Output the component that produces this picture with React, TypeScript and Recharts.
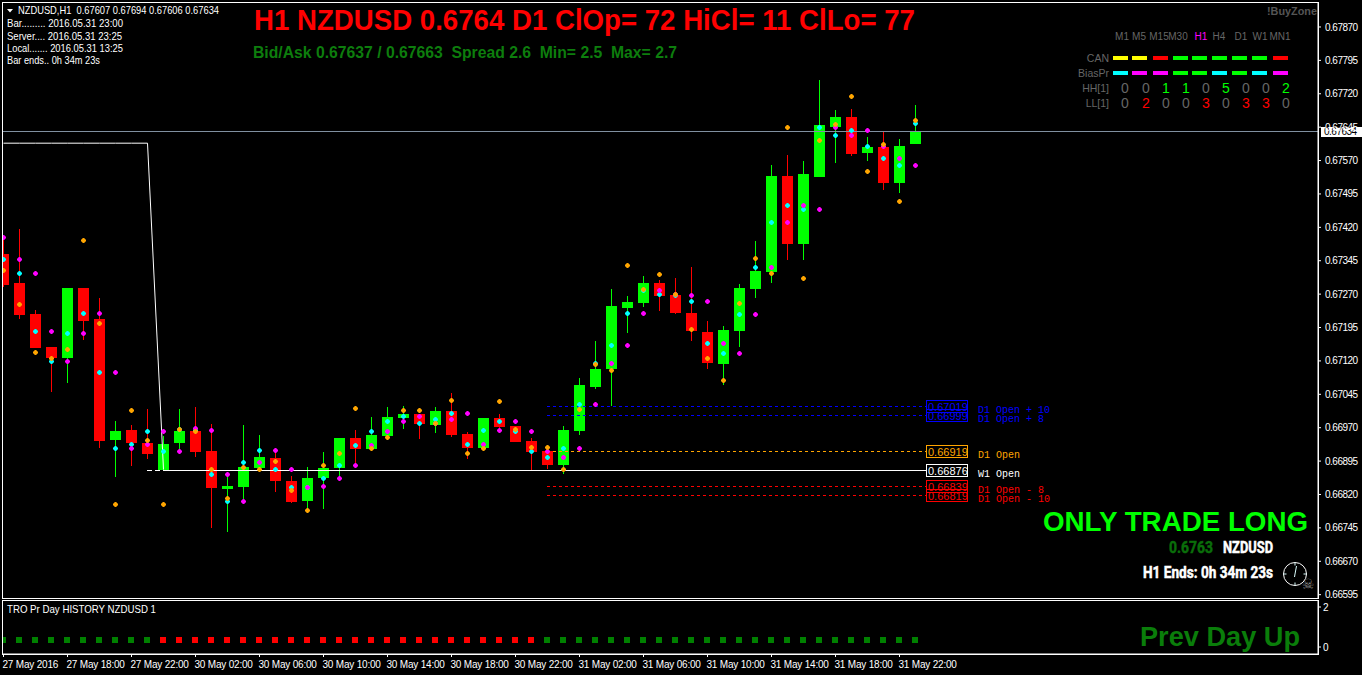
import React from "react";
import { ComposedChart, Bar, Line, XAxis, YAxis, ReferenceLine } from "recharts";

const opens = [0.6736,0.67295,0.67225,0.67151,0.67127,0.67284,0.67214,0.66942,0.66965,0.66935,0.66875,0.66935,0.66963,0.66918,0.66833,0.66837,0.66879,0.66902,0.66851,0.66806,0.66857,0.66879,0.66947,0.66922,0.66952,0.66992,0.67001,0.66976,0.67008,0.66956,0.66924,0.66992,0.66974,0.6694,0.66918,0.66886,0.66963,0.67061,0.67102,0.67239,0.6725,0.67295,0.67268,0.67227,0.67185,0.67113,0.67187,0.67281,0.6732,0.67536,0.67383,0.67533,0.67645,0.67668,0.67587,0.67601,0.6752,0.67607];
const closes = [0.67291,0.67223,0.67149,0.67127,0.67284,0.6721,0.6694,0.66963,0.66935,0.66911,0.66933,0.66963,0.66916,0.66835,0.6684,0.66881,0.66904,0.66851,0.66804,0.66857,0.66879,0.66947,0.66922,0.66954,0.66994,0.67001,0.66978,0.67008,0.66954,0.66924,0.66992,0.66971,0.66938,0.66916,0.66886,0.66965,0.67066,0.67102,0.67244,0.67253,0.67295,0.67266,0.67227,0.67187,0.67115,0.67189,0.67284,0.67322,0.67536,0.67383,0.6754,0.6765,0.67668,0.67585,0.67601,0.6752,0.67603,0.67634];
const highs = [0.67403,0.67417,0.67234,0.67151,0.67284,0.67284,0.67261,0.66985,0.66976,0.67012,0.66952,0.67012,0.67016,0.66978,0.66859,0.66976,0.66954,0.66916,0.66862,0.66881,0.66916,0.66947,0.66965,0.66994,0.67016,0.67019,0.67001,0.67016,0.67048,0.66961,0.66992,0.67001,0.66974,0.66947,0.66918,0.66974,0.67082,0.67165,0.67281,0.67266,0.67311,0.67302,0.67306,0.67331,0.6721,0.67198,0.67293,0.6739,0.6756,0.67583,0.67569,0.67751,0.67684,0.67686,0.67623,0.67637,0.67618,0.67694];
const lows = [0.67286,0.67214,0.67149,0.67051,0.6707,0.67167,0.66924,0.66859,0.66884,0.669,0.66875,0.66916,0.66904,0.66745,0.66736,0.66808,0.66875,0.66826,0.66801,0.66785,0.66788,0.66853,0.66879,0.66922,0.66952,0.66967,0.66945,0.66958,0.66949,0.669,0.66924,0.66958,0.66938,0.66875,0.66877,0.66866,0.66954,0.67057,0.67019,0.67182,0.67241,0.67232,0.67225,0.67165,0.67102,0.67066,0.67151,0.67263,0.67295,0.67347,0.67347,0.67533,0.67565,0.6758,0.67569,0.67504,0.67497,0.67606];
const orangeDots = [0.67324,0.67246,0.67138,0.67125,0.67145,0.6739,0.67203,0.66797,0.67008,0.66942,0.66797,0.66965,0.66961,0.66875,0.6681,0.66881,0.66877,0.66893,0.66828,0.66783,0.66886,0.66913,0.67014,0.66924,0.66949,0.67008,0.67008,0.6698,0.6703,0.66913,0.66924,0.67028,0.66967,0.66926,0.66926,0.66877,0.6701,0.67113,0.67098,0.67334,0.67281,0.67315,0.6727,0.67191,0.67125,0.67077,0.67248,0.67349,0.67317,0.67645,0.67304,0.67614,0.67652,0.67713,0.67545,0.67605,0.67477,0.67661];
const cyanDots = [0.67347,0.67317,0.67185,0.67118,0.67181,0.67227,0.67095,0.66924,0.66933,0.66961,0.66916,0.66967,0.66963,0.66864,0.66804,0.66891,0.66918,0.66877,0.66835,0.66835,0.66855,0.66886,0.66929,0.66961,0.66985,0.66996,0.6698,0.66989,0.67003,0.66933,0.66963,0.66983,0.66961,0.66916,0.66904,0.66924,0.67021,0.67115,0.67154,0.67227,0.67279,0.6727,0.67266,0.67253,0.6716,0.67136,0.67225,0.67329,0.6743,0.67468,0.67461,0.67645,0.67627,0.67637,0.67601,0.67574,0.6756,0.67654];
const magentaDots = [0.67398,0.67347,0.67317,0.67185,0.67118,0.67181,0.67227,0.67095,0.66924,0.66933,0.66961,0.66916,0.66969,0.66963,0.66864,0.66804,0.66891,0.66918,0.66877,0.66835,0.66837,0.66855,0.66886,0.66929,0.66961,0.66985,0.66996,0.6698,0.66989,0.67003,0.66933,0.66963,0.66983,0.66961,0.66916,0.66904,0.66924,0.67021,0.67115,0.67154,0.67227,0.67279,0.6727,0.67268,0.67253,0.6716,0.67136,0.67225,0.67329,0.6743,0.67468,0.67461,0.67645,0.67627,0.67637,0.67601,0.67574,0.6756];
const stepLine = [0.67609,0.67609,0.67609,0.67609,0.67609,0.67609,0.67609,0.67609,0.67609,0.67609,0.66876];
const histValue = [0.35,0.35,0.35,0.35,0.35,0.35,0.35,0.35,0.35,0.35,0.35,0.35,0.35,0.35,0.35,0.35,0.35,0.35,0.35,0.35,0.35,0.35,0.35,0.35,0.35,0.35,0.35,0.35,0.35,0.35,0.35,0.35,0.35,0.35,0.35,0.35,0.35,0.35,0.35,0.35,0.35,0.35,0.35,0.35,0.35,0.35,0.35,0.35,0.35,0.35,0.35,0.35,0.35,0.35,0.35,0.35,0.35,0.35];
const histUp = [1,1,1,1,1,1,1,1,1,1,0,0,0,0,0,0,0,0,0,0,0,0,0,0,0,0,0,0,0,0,0,0,0,0,1,1,1,1,1,1,1,1,1,1,1,1,1,1,1,1,1,1,1,1,1,1,1,1];

const priceTicks = [0.6787,0.67795,0.6772,0.67645,0.6757,0.67495,0.6742,0.67345,0.6727,0.67195,0.6712,0.67045,0.6697,0.66895,0.6682,0.66745,0.6667,0.66595];
const timeTickIdx = [0,4,8,12,16,20,24,28,32,36,40,44,48,52,56];
const timeLabels = ["27 May 2016","27 May 18:00","27 May 22:00","30 May 02:00","30 May 06:00","30 May 10:00","30 May 14:00","30 May 18:00","30 May 22:00","31 May 02:00","31 May 06:00","31 May 10:00","31 May 14:00","31 May 18:00","31 May 22:00"];

const levelPrices = [0.67019,0.66999,0.66919,0.66876,0.66839,0.66819];
const levelNames = ["D1 Open + 10","D1 Open + 8","D1 Open","W1 Open","D1 Open - 8","D1 Open - 10"];
const levelColors = ["#0000ff","#0000ff","#ffa500","#ffffff","#ff0000","#ff0000"];
const levelFrom = [34,34,34,10,34,34];
const bidPrice = 0.67634;

const frames = ["M1","M5","M15","M30","H1","H4","D1","W1","MN1"];
const frameX = [1122,1139,1159,1178,1201,1219,1241,1260,1280];
const canColors = ["#ffff00","#ffff00","#ff0000","#00ff00","#00ff00","#00ff00","#00ff00","#00ff00","#ff0000"];
const biasColors = ["#00ffff","#ff00ff","#ff00ff","#00ff00","#00ff00","#00ffff","#00ff00","#00ffff","#ff00ff"];
const dashX = [1113,1132,1153,1173,1192,1212,1232,1252,1273];
const numX = [1125,1146,1166,1186,1206,1226,1246,1266,1286];
const hhValues = [0,0,1,1,0,5,0,0,2];
const llValues = [0,2,0,0,3,0,3,3,0];
const infoLines = ["Bar......... 2016.05.31 23:00","Server.... 2016.05.31 23:25","Local....... 2016.05.31 13:25","Bar ends.. 0h 34m 23s"];

const rows = closes.map((c, i) => ({
  idx: i, open: opens[i], high: highs[i], low: lows[i], close: c,
  orange: orangeDots[i], cyan: cyanDots[i], magenta: magentaDots[i],
  step: i < stepLine.length ? stepLine[i] : null,
  histUp: histUp[i] ? histValue[i] : null,
  histDown: histUp[i] ? null : histValue[i],
}));

const SANS = "'Liberation Sans', Arial, sans-serif";
const MONO = "'Liberation Mono', 'DejaVu Sans Mono', monospace";
const NARROW = "'Liberation Sans Narrow', Roboto, 'Liberation Sans', sans-serif";
const X_DOMAIN: [number, number] = [-0.09375, 82.15625];
const Y_DOMAIN: [number, number] = [0.665875, 0.679261];
const RED = "#ff0000";
const LIME = "#00ff00";

function Candle(props: any) {
  const { x, y, width, height, payload } = props;
  const up = payload.close >= payload.open;
  const color = up ? LIME : RED;
  const top = Math.min(y, y + height);
  const h = Math.abs(height);
  const span = payload.high - payload.low || 1;
  const toY = (v: number) => top + ((payload.high - v) / span) * h;
  const bodyTop = Math.round(toY(Math.max(payload.open, payload.close)));
  const bodyBottom = Math.max(bodyTop + 1, Math.round(toY(Math.min(payload.open, payload.close))));
  const cx = Math.round(x + width / 2 - 0.5);
  return (
    <g shapeRendering="crispEdges">
      <rect x={cx} y={Math.round(top)} width={1} height={Math.max(1, Math.round(h))} fill={color} />
      <rect x={cx - 5} y={bodyTop} width={11} height={bodyBottom - bodyTop} fill={color} />
    </g>
  );
}

const marker = (color: string) => (p: any) => {
  if (p.cy == null || p.value == null) return <g key={p.index} />;
  const cx = Math.floor(p.cx) + 0.5;
  const cy = Math.floor(p.cy) + 0.5;
  const diamond = `M${cx - 0.5} ${cy - 2.5}h1v1h1v1h1v1h-1v1h-1v1h-1v-1h-1v-1h-1v-1h1v-1h1z`;
  const octagon = `M${cx - 1.5} ${cy - 2.5}h3v1h1v3h-1v1h-3v-1h-1v-3h1z`;
  return (
    <g key={p.index} shapeRendering="crispEdges">
      <path d={octagon} fill={color} fillOpacity={0.6} />
      <path d={diamond} fill={color} />
    </g>
  );
};

const square = (color: string) => (p: any) => {
  if (p.cy == null || p.value == null) return <g key={p.index} />;
  return <rect key={p.index} x={Math.floor(p.cx) - 3} y={Math.round(p.cy) - 3} width={6} height={6} fill={color} shapeRendering="crispEdges" />;
};

const levelShape = (dash?: string) => (p: any) => {
  const yy = Math.round(p.y1 + 0.3) + 0.5;
  return <line x1={Math.floor(p.x1)} x2={Math.round(p.x2)} y1={yy} y2={yy} stroke={p.stroke} strokeWidth={1} strokeDasharray={dash} shapeRendering="crispEdges" />;
};

const bidShape = (p: any) => {
  const yy = Math.floor(p.y1) - 0.5;
  return <line x1={p.x1} x2={p.x2} y1={yy} y2={yy} stroke={p.stroke} strokeWidth={1} shapeRendering="crispEdges" />;
};

const levelLabel = (i: number) => (p: any) => {
  const vb = p.viewBox;
  const right = vb.x + vb.width;
  const yy = Math.round(vb.y + 0.3);
  const c = levelColors[i];
  const bx = Math.round(right) + 0.5;
  const by = yy - 5.5;
  return (
    <g>
      <rect x={bx} y={by} width={41} height={12} fill="none" stroke={c} strokeWidth={1} />
      <text x={bx + 1.5} y={by + 10} fill={c} fontFamily={SANS} fontSize={11}>{levelPrices[i].toFixed(5)}</text>
      <text x={978} y={yy + 7} fill={c} fontFamily={MONO} fontSize={10}>{levelNames[i]}</text>
    </g>
  );
};

const priceTag = (p: any) => {
  const yy = Math.floor(p.viewBox.y) - 1;
  return (
    <g>
      <rect x={1321} y={yy - 4} width={41} height={10} fill="#fff" />
      <text x={1324} y={yy + 4} fill="#000" fontFamily={SANS} fontSize={10} letterSpacing={-0.5}>{bidPrice.toFixed(5)}</text>
    </g>
  );
};

const TimeTick = (p: any) => {
  const i = timeTickIdx.indexOf(p.payload.value);
  return (
    <text x={p.x - 1} y={p.y + 9} fill="#fff" fontFamily={SANS} fontSize={10} letterSpacing={-0.2}>{timeLabels[i]}</text>
  );
};

const T = (p: any) => <text {...p} style={{ whiteSpace: "pre", ...(p.style || {}) }} />;

export default function App() {
  const yTick = { fill: "#fff", fontSize: 10, fontFamily: SANS, letterSpacing: -0.5 };
  return (
    <div style={{ position: "absolute", left: 0, top: 0, width: 1362, height: 675, background: "#000", overflow: "hidden" }}>
      <div style={{ position: "absolute", left: 0, top: 0 }}>
        <ComposedChart width={1362} height={600} data={rows} margin={{ top: 2, right: 0, bottom: 2, left: 2 }}>
          <XAxis dataKey="idx" type="number" domain={X_DOMAIN} allowDataOverflow hide />
          <YAxis orientation="right" width={44} domain={Y_DOMAIN} allowDataOverflow ticks={priceTicks} interval={0}
            tickFormatter={(v: number) => v.toFixed(5)} tick={yTick} tickSize={3} tickMargin={4}
            axisLine={{ stroke: "#fff" }} tickLine={{ stroke: "#fff" }} />
          <ReferenceLine y={bidPrice} stroke="#8090a0" shape={bidShape} label={priceTag} />
          <ReferenceLine segment={[{ x: 9, y: levelPrices[3] }, { x: 10, y: levelPrices[3] }]} stroke="#fff" shape={levelShape("5 3")} />
          {levelPrices.map((lv, i) => (
            <ReferenceLine key={i} segment={[{ x: levelFrom[i], y: lv }, { x: 57.625, y: lv }]} stroke={levelColors[i]}
              shape={levelShape(i === 3 ? undefined : "3 3")} label={levelLabel(i)} />
          ))}
          <Line dataKey="step" stroke="#fff" strokeWidth={1} dot={false} activeDot={false} isAnimationActive={false} />
          <Bar dataKey={(d: any) => [d.low, d.high]} barSize={11} shape={Candle} isAnimationActive={false} />
          <Line dataKey="cyan" stroke="none" dot={marker("#00ffff")} activeDot={false} isAnimationActive={false} />
          <Line dataKey="magenta" stroke="none" dot={marker("#ff00ff")} activeDot={false} isAnimationActive={false} />
          <Line dataKey="orange" stroke="none" dot={marker("#ffa500")} activeDot={false} isAnimationActive={false} />
        </ComposedChart>
      </div>
      <div style={{ position: "absolute", left: 0, top: 600 }}>
        <ComposedChart width={1362} height={75} data={rows} margin={{ top: 0, right: 0, bottom: 0, left: 2 }}>
          <XAxis dataKey="idx" type="number" domain={X_DOMAIN} allowDataOverflow ticks={timeTickIdx} interval={0} height={21}
            tick={TimeTick} tickSize={3} axisLine={{ stroke: "#fff" }} tickLine={{ stroke: "#fff" }} />
          <YAxis orientation="right" width={44} domain={[-0.35, 2.35]} allowDataOverflow ticks={[0, 2]} interval={0}
            tick={{ fill: "#fff", fontSize: 10, fontFamily: SANS }} tickSize={3} tickMargin={2}
            axisLine={{ stroke: "#fff" }} tickLine={{ stroke: "#fff" }} />
          <Line dataKey="histUp" stroke="none" dot={square("#008000")} activeDot={false} isAnimationActive={false} />
          <Line dataKey="histDown" stroke="none" dot={square("#ff0000")} activeDot={false} isAnimationActive={false} />
        </ComposedChart>
      </div>
      <svg width={1362} height={675} style={{ position: "absolute", left: 0, top: 0, pointerEvents: "none" }}>
        <rect x={2.5} y={2.5} width={1316} height={596} fill="none" stroke="#fff" />
        <rect x={2.5} y={600.5} width={1316} height={54} fill="none" stroke="#fff" />

        <path d="M7 9h6l-3 3.5z" fill="#fff" />
        <T x={18} y={14} fill="#fff" fontFamily={SANS} fontSize={10.5} textLength={201} lengthAdjust="spacingAndGlyphs">NZDUSD,H1  0.67607 0.67694 0.67606 0.67634</T>
        {infoLines.map((s, i) => (
          <T key={i} x={7} y={[27, 40, 52, 64][i]} fill="#fff" fontFamily={SANS} fontSize={10.5} textLength={[116, 115, 116, 93][i]} lengthAdjust="spacingAndGlyphs">{s}</T>
        ))}

        <T x={254} y={30} fill={RED} fontFamily={SANS} fontWeight={700} fontSize={29} textLength={661} lengthAdjust="spacingAndGlyphs">H1 NZDUSD 0.6764 D1 ClOp= 72 HiCl= 11 ClLo= 77</T>
        <T x={253} y={58} fill="#0d7d0d" fontFamily={SANS} fontWeight={700} fontSize={16} textLength={424} lengthAdjust="spacingAndGlyphs">Bid/Ask 0.67637 / 0.67663  Spread 2.6  Min= 2.5  Max= 2.7</T>

        <T x={1267} y={15} fill="#555" fontFamily={SANS} fontWeight={700} fontSize={11.5} textLength={50} lengthAdjust="spacingAndGlyphs">!BuyZone</T>
        {frames.map((f, i) => (
          <text key={f} x={frameX[i]} y={39.5} textAnchor="middle" fill={f === "H1" ? "#ff00ff" : "#666"} fontFamily={SANS} fontSize={10}>{f}</text>
        ))}
        <text x={1109} y={62} textAnchor="end" fill="#666" fontFamily={SANS} fontSize={10.5}>CAN</text>
        <text x={1109} y={77} textAnchor="end" fill="#666" fontFamily={SANS} fontSize={10.5}>BiasPr</text>
        <text x={1109} y={92} textAnchor="end" fill="#666" fontFamily={SANS} fontSize={10.5}>HH[1]</text>
        <text x={1109} y={107} textAnchor="end" fill="#666" fontFamily={SANS} fontSize={10.5}>LL[1]</text>
        {dashX.map((x, i) => (
          <g key={i}>
            <rect x={x} y={56} width={15} height={4} fill={canColors[i]} />
            <rect x={x} y={71} width={15} height={4} fill={biasColors[i]} />
            <text x={numX[i]} y={93} textAnchor="middle" fill={hhValues[i] ? LIME : "#666"} fontFamily={SANS} fontSize={14}>{hhValues[i]}</text>
            <text x={numX[i]} y={108} textAnchor="middle" fill={llValues[i] ? RED : "#666"} fontFamily={SANS} fontSize={14}>{llValues[i]}</text>
          </g>
        ))}

        <T x={1043} y={531} fill={LIME} fontFamily={SANS} fontWeight={700} fontSize={27} textLength={265} lengthAdjust="spacingAndGlyphs">ONLY TRADE LONG</T>
        <T x={1169} y={553} fill="#0a6e0a" stroke="#0a6e0a" strokeWidth={0.5} fontFamily={NARROW} fontWeight={700} fontSize={16} textLength={44} lengthAdjust="spacingAndGlyphs">0.6763</T>
        <T x={1223} y={553} fill="#fff" stroke="#fff" strokeWidth={0.5} fontFamily={NARROW} fontWeight={700} fontSize={16} textLength={50} lengthAdjust="spacingAndGlyphs">NZDUSD</T>
        <T x={1143} y={578} fill="#fff" stroke="#fff" strokeWidth={0.5} fontFamily={NARROW} fontWeight={700} fontSize={16} textLength={130} lengthAdjust="spacingAndGlyphs">H1 Ends: 0h 34m 23s</T>
        <circle cx={1295} cy={574} r={11.5} fill="none" stroke="#fff" />
        <path d="M1295 562.5v3M1295 582.5v3M1283.5 574h3M1303.5 574h3M1295 574l1.5 -8M1295 574l-0.5 3" stroke="#dff" strokeWidth={1} />
        <text x={1308} y={589} textAnchor="middle" fill="#8a8a8a" fontFamily="'DejaVu Sans'" fontSize={14}>☠</text>

        <T x={7} y={613} fill="#fff" fontFamily={SANS} fontSize={10.5} textLength={149} lengthAdjust="spacingAndGlyphs">TRO Pr Day HISTORY NZDUSD 1</T>
        <T x={1140} y={646} fill="#0a7d0a" fontFamily={SANS} fontWeight={700} fontSize={28} textLength={160} lengthAdjust="spacingAndGlyphs">Prev Day Up</T>
      </svg>
    </div>
  );
}
